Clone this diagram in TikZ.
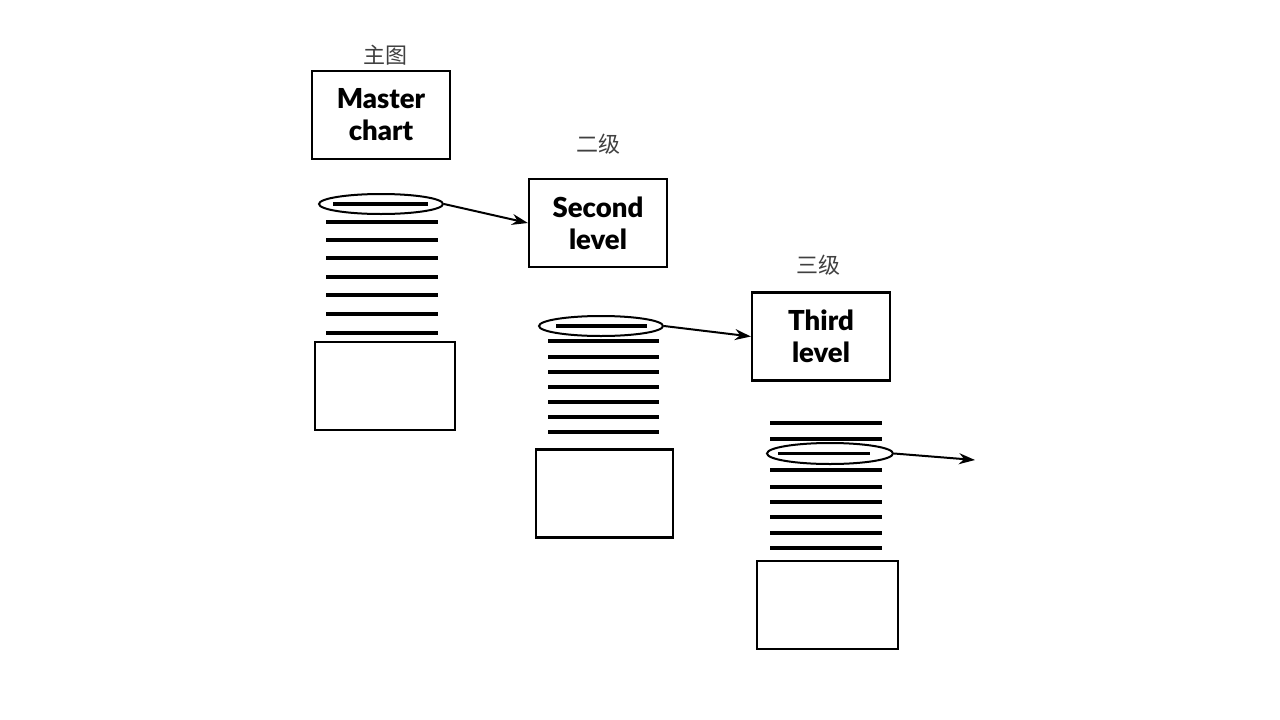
\documentclass[tikz,border=0pt]{standalone}
\usepackage{fontspec}
\setsansfont{Lato}[BoldFont={Lato Black}]
\newfontfamily\cjk{Noto Sans CJK SC}
\usetikzlibrary{arrows.meta}
\usetikzlibrary{shapes.geometric}

\begin{document}
\begin{tikzpicture}[x=1pt,y=-1pt]
		\tikzset{level/.style={draw,line width=2.2pt,minimum width=138pt,minimum height=88pt,inner sep=0pt,align=center,font=\sffamily\bfseries\fontsize{27.5}{32}\selectfont},
			page/.style={draw,line width=2.2pt,minimum height=88pt,inner sep=0pt},
			ring/.style={draw,ellipse,line width=2pt,minimum width=124pt,minimum height=20pt,inner sep=0pt},
			tag/.style={font=\cjk\fontsize{22}{22}\selectfont,text=black!75},
			link/.style={line width=2pt,-{Stealth[length=16pt,width=11pt]}},
			rule/.style={line width=3.4pt}}
		\useasboundingbox (0,0) rectangle (1280,720);
		\node[tag] (tmaster) at (385,55) {主图};
		\node[level] (master) at (381,115) {Master\\chart};
		\node[ring] (rmaster) at (381,204) {};
		\draw[rule] (333,204) -- (428,204);
		\foreach \y in {222,240,258,277,295,314,333}
			\draw[rule] (326,\y) -- (438,\y);
		\node[page,minimum width=140pt] (pmaster) at (385,386) {};
		
		\node[tag] (tsecond) at (598,144) {二级};
		\node[level] (second) at (598,223) {Second\\level};
		\node[ring] (rsecond) at (601,326) {};
		\draw[rule] (556,326) -- (647,326);
		\foreach \y in {341,357,372,387,402,417,432}
			\draw[rule] (548,\y) -- (659,\y);
		\node[page,minimum width=137pt] (psecond) at (604.5,493.5) {};
		
		\node[tag] (tthird) at (818,265) {三级};
		\node[level] (third) at (821,336.5) {Third\\level};
		\node[ring,minimum width=126pt,minimum height=21pt] (rthird) at (830,453.5) {};
		\draw[rule] (778,453.5) -- (870,453.5);
		\foreach \y in {423,439,470,487,502,517,533,548}
			\draw[rule] (770,\y) -- (882,\y);
		\node[page,minimum width=141pt] (pthird) at (827.5,605) {};
		\coordinate (next) at (975,460);
		
		\draw[link] (rmaster.east) -- (second.west);
		\draw[link] (rsecond.east) -- (third.west);
		\draw[link] (rthird.east) -- (next);
\end{tikzpicture}
\end{document}
